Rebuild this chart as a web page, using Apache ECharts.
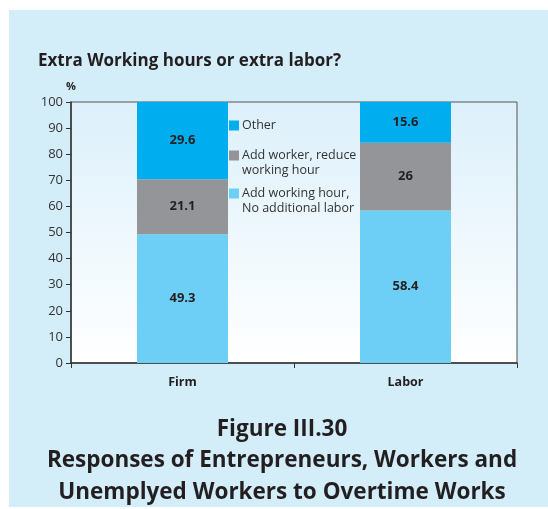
<!DOCTYPE html>
<html style="height: 100%">
<head>
    <meta charset="UTF-8">
</head>
<body style="height: 100%; margin: 0">
    <div id="container" style="height: 509px;width: 548px;"></div>
    <script type="text/javascript" src="https://cdn.jsdelivr.net/npm/echarts@6/dist/echarts.min.js"></script>
    <script type="text/javascript">
        var categories = ['Firm', 'Labor'];
        var addHour = [49.3, 58.4];
        var addWorker = [21.1, 26];
        var other = [29.6, 15.6];
        var yTicks = [0, 10, 20, 30, 40, 50, 60, 70, 80, 90, 100];
        var seriesNames = ['Other', 'Add worker, reduce\nworking hour', 'Add working hour,\nNo additional labor'];

        var FONT = 'Open Sans';
        var labelStyle = {
            show: true,
            position: 'inside',
            color: '#231f20',
            fontWeight: 'bold',
            fontSize: 13,
            fontFamily: FONT
        };
        var captionStyle = {fontSize: 22.5, lineHeight: 32, fontWeight: 'bold', fontFamily: FONT, color: '#231f20'};

        // one legend per entry so each can sit where the original has it.
        // two-line entries use a tall icon box with the square at its top,
        // so the square lines up with the first text line
        function legendAt(name, top, twoLines) {
            return {
                orient: 'vertical',
                left: 229,
                top: top,
                padding: 0,
                itemWidth: 10,
                itemHeight: twoLines ? 25 : 10,
                icon: twoLines ? 'path://M0,0h10v10h-10z M0,25L0,25' : 'rect',
                data: [name],
                textStyle: {fontSize: 12.5, fontFamily: FONT, color: '#333', lineHeight: 15, padding: [0, 0, 0, -2]}
            };
        }

        var dom = document.getElementById("container");
        var myChart = echarts.init(dom);
        var option = {
            backgroundColor: '#ffffff',
            animation: false,
            graphic: [
                {type: 'rect', z: -10, shape: {x: 9, y: 10, width: 539, height: 497}, style: {fill: '#d3edf9'}}
            ],
            title: [
                {text: 'Extra Working hours or extra labor?', left: 38, top: 53, padding: 0,
                    textStyle: {fontSize: 17, fontWeight: 'bold', fontFamily: FONT, color: '#231f20'}},
                {text: 'Figure III.30', left: 282, textAlign: 'center', top: 414, padding: 0, textStyle: captionStyle},
                {text: 'Responses of Entrepreneurs, Workers and\nUnemplyed Workers to Overtime Works',
                    left: 282, textAlign: 'center', top: 445, padding: 0, textStyle: captionStyle}
            ],
            grid: {
                left: 71, right: 31, top: 102, bottom: 146,
                show: true,
                borderColor: '#555',
                borderWidth: 1,
                backgroundColor: {
                    type: 'linear', x: 0, y: 0, x2: 0, y2: 1,
                    colorStops: [{offset: 0, color: '#dcf0fb'}, {offset: 1, color: '#ffffff'}]
                }
            },
            legend: [
                legendAt(seriesNames[0], 118, false),
                legendAt(seriesNames[1], 148, true),
                legendAt(seriesNames[2], 186, true)
            ],
            xAxis: {
                type: 'category',
                data: categories,
                axisLine: {lineStyle: {color: '#333', width: 1.5}},
                axisTick: {show: true, length: 5, lineStyle: {color: '#333'}},
                axisLabel: {fontSize: 12.5, fontWeight: 'bold', fontFamily: FONT, color: '#231f20', margin: 13}
            },
            yAxis: {
                type: 'value',
                min: 0, max: 100, interval: 10,
                name: '%',
                nameGap: 10,
                nameTextStyle: {fontSize: 11, fontWeight: 'bold', fontFamily: FONT, color: '#231f20', align: 'center'},
                axisLine: {show: true, lineStyle: {color: '#333', width: 1.5}},
                axisTick: {show: true, length: 5, lineStyle: {color: '#333'}},
                splitLine: {show: false},
                axisLabel: {fontSize: 13, fontFamily: FONT, color: '#333', margin: 8,
                    formatter: function (v) { return yTicks.indexOf(v) >= 0 ? String(v) : ''; }}
            },
            series: [
                {name: seriesNames[2], type: 'bar', stack: 'a', data: addHour, barWidth: 91,
                    itemStyle: {color: '#6dcff6'}, label: labelStyle},
                {name: seriesNames[1], type: 'bar', stack: 'a', data: addWorker,
                    itemStyle: {color: '#939598'}, label: labelStyle},
                {name: seriesNames[0], type: 'bar', stack: 'a', data: other,
                    itemStyle: {color: '#00aeef'}, label: labelStyle}
            ]
        };
        myChart.setOption(option, true);
    </script>
</body>
</html>
